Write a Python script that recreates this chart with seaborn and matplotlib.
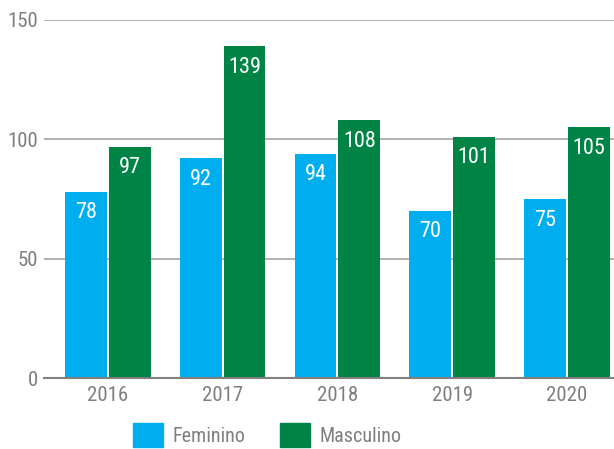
import seaborn as sns
import matplotlib.pyplot as plt
import pandas as pd

years = ['2016', '2017', '2018', '2019', '2020']
feminino = [78, 92, 94, 70, 75]
masculino = [97, 139, 108, 101, 105]
series_names = ['Feminino', 'Masculino']
colors = ['#00AEEF', '#008445']

df = pd.DataFrame({
    'ano': years * 2,
    'valor': feminino + masculino,
    'sexo': [series_names[0]] * len(years) + [series_names[1]] * len(years),
})

sns.set_style('white')
plt.rcParams['font.family'] = ['Roboto Condensed', 'Roboto', 'DejaVu Sans']

fig = plt.figure(figsize=(6.14, 4.49), dpi=100)
ax = fig.add_axes([0.0717, 0.158, 0.9283, 0.7975])

sns.barplot(data=df, x='ano', y='valor', hue='sexo', palette=colors,
            width=0.765, gap=0.05, ax=ax, legend=False, saturation=1, linewidth=0)

ax.set_ylim(0, 150)
ax.set_xlim(-0.556, 4.41)
ax.set_yticks([0, 50, 100, 150])
ax.grid(axis='y', color='#a6a6a6', linewidth=1.2)
ax.set_axisbelow(True)
for s in ['top', 'right', 'left']:
    ax.spines[s].set_visible(False)
ax.spines['bottom'].set_color('#808080')
ax.spines['bottom'].set_linewidth(1.5)
ax.tick_params(axis='both', length=0, labelsize=15, labelcolor='#7f7f7f')
ax.tick_params(axis='x', pad=6)
ax.tick_params(axis='y', pad=4)
ax.set_xlabel('')
ax.set_ylabel('')

for cont in ax.containers:
    for bar in cont:
        h = bar.get_height()
        ax.annotate(f'{h:.0f}', (bar.get_x() + bar.get_width() / 2, h),
                    xytext=(0, -21), textcoords='offset pixels',
                    ha='center', va='center', color='white', fontsize=16)

handles = [plt.Rectangle((0, 0), 1, 1, color=c) for c in colors]
fig.legend(handles, series_names, loc='lower center', bbox_to_anchor=(0.435, -0.035),
           ncol=2, frameon=False, fontsize=14.5, handlelength=1.5, handleheight=1.4,
           columnspacing=1.75, handletextpad=0.45, labelcolor='#7f7f7f')

plt.savefig('out.png', dpi=100)
